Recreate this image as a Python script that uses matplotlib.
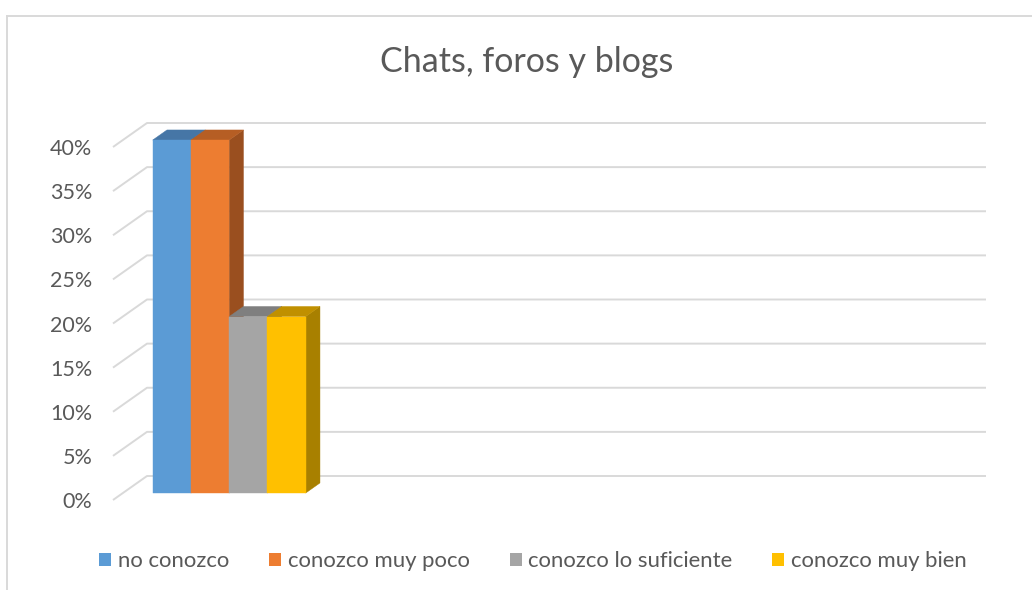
import matplotlib
matplotlib.use("Agg")
import matplotlib.pyplot as plt
import matplotlib.patches as patches
import numpy as np

# data
series = ["no conozco", "conozco muy poco", "conozco lo suficiente", "conozco muy bien"]
values = [40, 40, 20, 20]
front_colors = ["#5B9BD5", "#ED7D31", "#A5A5A5", "#FFC000"]
top_colors = ["#4676A6", "#B65E24", "#7F7F7F", "#C09000"]
side_colors = ["#3E6690", "#9A4F1F", "#6E6E6E", "#A88000"]
y_ticks = [0, 5, 10, 15, 20, 25, 30, 35, 40]
title = "Chats, foros y blogs"

# style / layout (pixel based, figure at 100 dpi)
W, H = 1032, 590
TEXT = "#595959"
GRID = "#D9D9D9"
FONT = "Lato"
plt.rcParams["font.family"] = [FONT, "DejaVu Sans"]

BAR_PX = 38.25           # bar width in px
PCT_PX = 353 / 40        # px per percent (front plane)
FLOOR_DX, FLOOR_DY = 34, 24   # px shift front -> back wall
X_LEFT, X_RIGHT = 113, 952    # front plane extent in px
Y_ZERO = 500
D0, D1 = 0.29, 0.71      # bar depth range (0 = front, 1 = back)
FIRST_BAR = 0.78         # offset of first bar from left wall, bar units

fig = plt.figure(figsize=(W / 100, H / 100), dpi=100)
fig.patch.set_facecolor("white")

ax = fig.add_axes([X_LEFT / W, (H - Y_ZERO) / H,
                   (X_RIGHT - X_LEFT) / W, 40 * PCT_PX / H])
xmax = (X_RIGHT - X_LEFT) / BAR_PX
ax.set_xlim(0, xmax)
ax.set_ylim(0, 40)
ax.set_facecolor("none")
for s in ax.spines.values():
    s.set_visible(False)

DX = FLOOR_DX / BAR_PX
DY = FLOOR_DY / PCT_PX


def at(x, v, d):
    return (x + d * DX, v + d * DY)


# gridlines (slanted side wall + back wall)
for v in y_ticks:
    pts = [at(0, v, 0), at(0, v, 1), at(xmax, v, 1)]
    ax.plot([p[0] for p in pts], [p[1] for p in pts], color=GRID,
            lw=1.4, clip_on=False, zorder=1, solid_capstyle="butt")

# bars
lefts = FIRST_BAR + np.arange(len(values))
for i, (xl, v) in enumerate(zip(lefts, values)):
    xr = xl + 1
    side = [at(xr, 0, D0), at(xr, v, D0), at(xr, v, D1), at(xr, 0, D1)]
    top = [at(xl, v, D0), at(xr, v, D0), at(xr, v, D1), at(xl, v, D1)]
    ax.add_patch(patches.Polygon(side, closed=True, facecolor=side_colors[i],
                                 edgecolor=side_colors[i], lw=0.3,
                                 clip_on=False, zorder=2))
    ax.add_patch(patches.Polygon(top, closed=True, facecolor=top_colors[i],
                                 edgecolor=top_colors[i], lw=0.3,
                                 clip_on=False, zorder=2))
    ax.bar(xl + D0 * DX, v, width=1, bottom=D0 * DY, align="edge",
           color=front_colors[i], edgecolor=front_colors[i], lw=0.3,
           clip_on=False, zorder=2, label=series[i])

ax.set_xticks([])
ax.set_yticks(y_ticks)
ax.set_yticklabels([f"{t}%" for t in y_ticks])
ax.tick_params(axis="y", length=0, pad=15, labelsize=15.5, labelcolor=TEXT)

# title
fig.text(527 / W, 1 - 62 / H, title, ha="center", va="center",
         fontsize=24.5, color=TEXT)

# legend
handles = [patches.Patch(facecolor=c, edgecolor="none") for c in front_colors]
leg = fig.legend(handles, series, loc="center", ncol=4,
                 bbox_to_anchor=(533 / W, 1 - 561 / H), frameon=False,
                 fontsize=15.9, labelcolor=TEXT, handlelength=0.55,
                 handleheight=0.55, handletextpad=0.3, columnspacing=1.8)

# chart frame (cut at right and bottom)
fig.add_artist(plt.Line2D([7 / W, 7 / W], [0, 1 - 16 / H], color=GRID,
                          lw=1.4, transform=fig.transFigure))
fig.add_artist(plt.Line2D([7 / W, 1], [1 - 16 / H, 1 - 16 / H], color=GRID,
                          lw=1.4, transform=fig.transFigure))

fig.savefig("out.png", dpi=100, facecolor="white")
